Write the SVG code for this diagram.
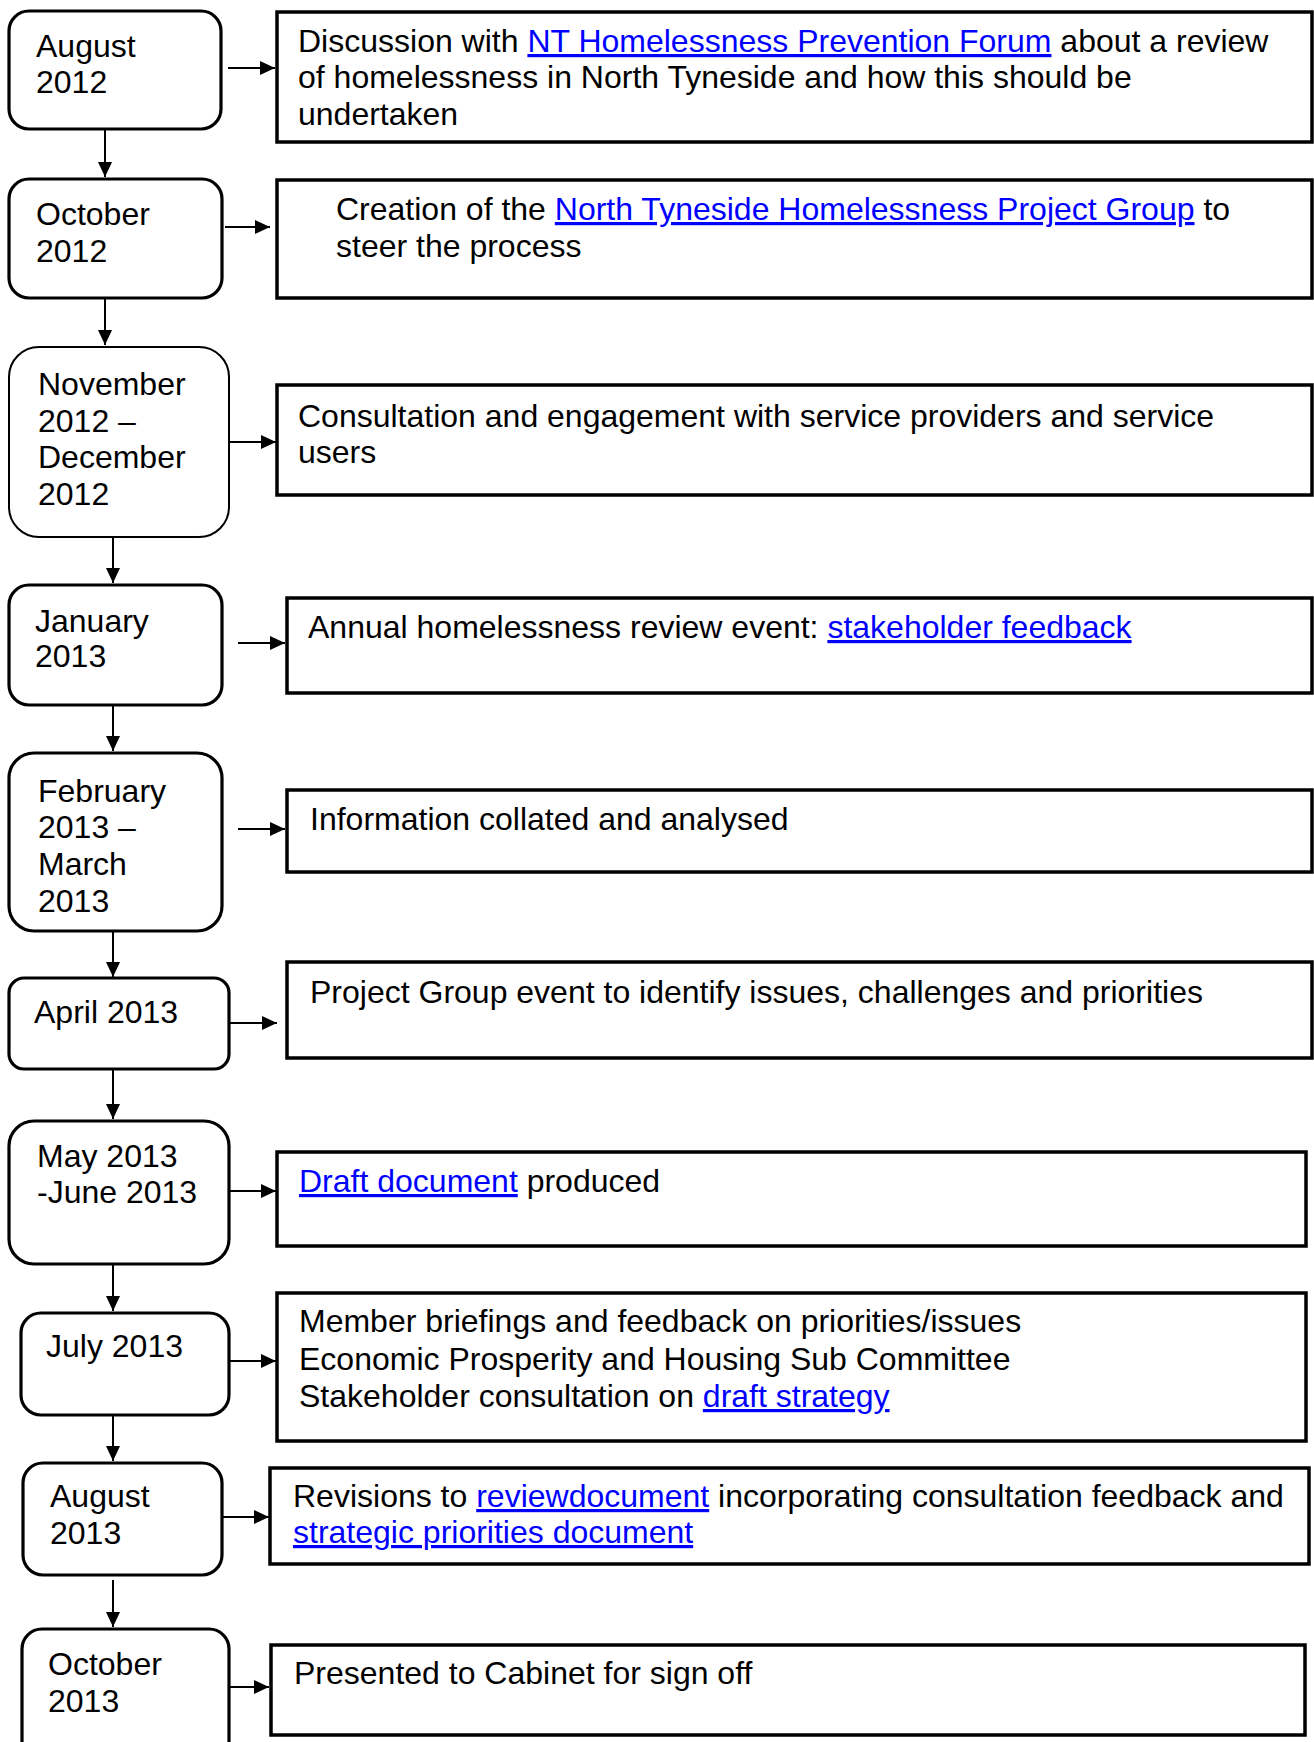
<svg xmlns="http://www.w3.org/2000/svg" width="1314" height="1742" viewBox="0 0 1314 1742">
<style>
text{font-family:"Liberation Sans",Arial,Helvetica,sans-serif;font-size:32px;fill:#000}
.date{fill:#fff;stroke:#000;stroke-width:3.2}
.thin{stroke-width:2}
.box{fill:#fff;stroke:#000;stroke-width:3.5}
.lnk{fill:#0000ff;text-decoration:underline}
.con line{stroke:#000;stroke-width:2;fill:none}
</style>
<defs>
<marker id="ah" markerUnits="userSpaceOnUse" markerWidth="16" markerHeight="16" viewBox="0 0 16 16" refX="15" refY="8" orient="auto">
<path d="M0,1 L15,8 L0,15 Z" fill="#000"/>
</marker>
</defs>
<rect width="1314" height="1742" fill="#fff"/>

<g id="connectors" class="con">
<line x1="228" y1="68" x2="275" y2="68" marker-end="url(#ah)"/>
<line x1="225" y1="227" x2="270" y2="227" marker-end="url(#ah)"/>
<line x1="229" y1="442" x2="276" y2="442" marker-end="url(#ah)"/>
<line x1="238" y1="643" x2="285" y2="643" marker-end="url(#ah)"/>
<line x1="238" y1="829" x2="285" y2="829" marker-end="url(#ah)"/>
<line x1="229" y1="1023" x2="277" y2="1023" marker-end="url(#ah)"/>
<line x1="229" y1="1191" x2="276" y2="1191" marker-end="url(#ah)"/>
<line x1="229" y1="1361" x2="276" y2="1361" marker-end="url(#ah)"/>
<line x1="222" y1="1517" x2="269" y2="1517" marker-end="url(#ah)"/>
<line x1="222" y1="1687" x2="269" y2="1687" marker-end="url(#ah)"/>
<line x1="105" y1="130" x2="105" y2="177" marker-end="url(#ah)"/>
<line x1="105" y1="299" x2="105" y2="345" marker-end="url(#ah)"/>
<line x1="113" y1="538" x2="113" y2="583" marker-end="url(#ah)"/>
<line x1="113" y1="706" x2="113" y2="751" marker-end="url(#ah)"/>
<line x1="113" y1="932" x2="113" y2="977" marker-end="url(#ah)"/>
<line x1="113" y1="1070" x2="113" y2="1119" marker-end="url(#ah)"/>
<line x1="113" y1="1265" x2="113" y2="1311" marker-end="url(#ah)"/>
<line x1="113" y1="1416" x2="113" y2="1461" marker-end="url(#ah)"/>
<line x1="113" y1="1580" x2="113" y2="1627" marker-end="url(#ah)"/>
</g>

<g id="d1"><rect class="date" x="9" y="11" width="212" height="118" rx="20"/><text x="36" y="57">August</text><text x="36" y="93">2012</text></g>
<g id="d2"><rect class="date" x="9" y="179" width="213" height="119" rx="20"/><text x="36" y="225">October</text><text x="36" y="262">2012</text></g>
<g id="d3"><rect class="date thin" x="9" y="347" width="220" height="190" rx="30"/><text x="38" y="395">November</text><text x="38" y="432">2012 –</text><text x="38" y="468">December</text><text x="38" y="505">2012</text></g>
<g id="d4"><rect class="date" x="9" y="585" width="213" height="120" rx="20"/><text x="35" y="632">January</text><text x="35" y="667">2013</text></g>
<g id="d5"><rect class="date" x="9" y="753" width="213" height="178" rx="25"/><text x="38" y="802">February</text><text x="38" y="838">2013 –</text><text x="38" y="875">March</text><text x="38" y="912">2013</text></g>
<g id="d6"><rect class="date" x="9" y="978" width="220" height="91" rx="15"/><text x="34" y="1023">April 2013</text></g>
<g id="d7"><rect class="date" x="9" y="1121" width="220" height="143" rx="25"/><text x="37" y="1167">May 2013</text><text x="37" y="1203">-June 2013</text></g>
<g id="d8"><rect class="date" x="21" y="1313" width="208" height="102" rx="20"/><text x="46" y="1357">July 2013</text></g>
<g id="d9"><rect class="date" x="23" y="1463" width="199" height="112" rx="20"/><text x="50" y="1507">August</text><text x="50" y="1544">2013</text></g>
<g id="d10"><rect class="date" x="22" y="1629" width="207" height="140" rx="20"/><text x="48" y="1675">October</text><text x="48" y="1712">2013</text></g>

<g id="e1"><rect class="box" x="277" y="12" width="1035" height="130"/>
<text x="298" y="52">Discussion with <tspan class="lnk">NT Homelessness Prevention Forum</tspan> about a review</text>
<text x="298" y="88">of homelessness in North Tyneside and how this should be</text>
<text x="298" y="125">undertaken</text></g>
<g id="e2"><rect class="box" x="277" y="180" width="1035" height="118"/>
<text x="336" y="220">Creation of the <tspan class="lnk">North Tyneside Homelessness Project Group</tspan> to</text>
<text x="336" y="257">steer the process</text></g>
<g id="e3"><rect class="box" x="277" y="385" width="1035" height="110"/>
<text x="298" y="427">Consultation and engagement with service providers and service</text>
<text x="298" y="463">users</text></g>
<g id="e4"><rect class="box" x="287" y="598" width="1025" height="95"/>
<text x="308" y="638">Annual homelessness review event: <tspan class="lnk">stakeholder feedback</tspan></text></g>
<g id="e5"><rect class="box" x="287" y="790" width="1025" height="82"/>
<text x="310" y="830">Information collated and analysed</text></g>
<g id="e6"><rect class="box" x="287" y="962" width="1025" height="96"/>
<text x="310" y="1003">Project Group event to identify issues, challenges and priorities</text></g>
<g id="e7"><rect class="box" x="277" y="1152" width="1029" height="94"/>
<text x="299" y="1192"><tspan class="lnk">Draft document</tspan> produced</text></g>
<g id="e8"><rect class="box" x="277" y="1293" width="1029" height="148"/>
<text x="299" y="1332">Member briefings and feedback on priorities/issues</text>
<text x="299" y="1370">Economic Prosperity and Housing Sub Committee</text>
<text x="299" y="1407">Stakeholder consultation on <tspan class="lnk">draft strategy</tspan></text></g>
<g id="e9"><rect class="box" x="270" y="1468" width="1039" height="96"/>
<text x="293" y="1507">Revisions to <tspan class="lnk">reviewdocument</tspan> incorporating consultation feedback and</text>
<text x="293" y="1543"><tspan class="lnk">strategic priorities document</tspan></text></g>
<g id="e10"><rect class="box" x="271" y="1645" width="1034" height="90"/>
<text x="294" y="1684">Presented to Cabinet for sign off</text></g>
</svg>
